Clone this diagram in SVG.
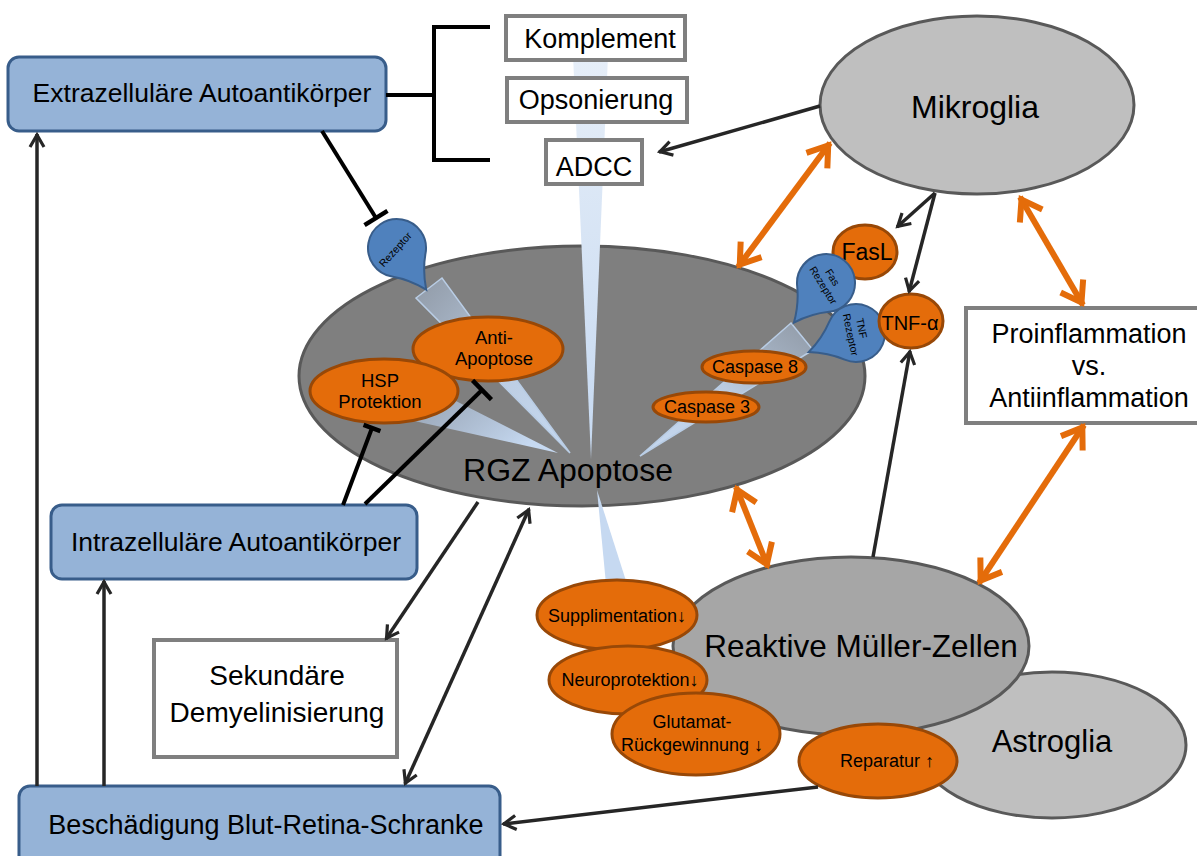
<svg xmlns="http://www.w3.org/2000/svg" width="1197" height="856" viewBox="0 0 1197 856">
<defs>
<style>
.t{font-family:"Liberation Sans",Arial,sans-serif;fill:#000}
.bb{fill:#95b3d7;stroke:#385d8a;stroke-width:3}
.bw{fill:#fff;stroke:#7f7f7f;stroke-width:4}
.cl{stroke:#595959;stroke-width:3}
.or{fill:#e46c0a;stroke:#984807;stroke-width:3}
.rc{fill:#4f81bd;stroke:#385d8a;stroke-width:2}
.lk{fill:none;stroke:#262626;stroke-width:3.5}
.lt{fill:none;stroke:#000;stroke-width:4}
.lo{fill:none;stroke:#e46c0a;stroke-width:6}
.wd{stroke:#b9cde5;stroke-width:1.5}
</style>
<linearGradient id="gV" x1="0" y1="0" x2="0" y2="1"><stop offset="0" stop-color="#e6eef8"/><stop offset="1" stop-color="#c6d9f1"/></linearGradient>
<linearGradient id="gR" x1="0" y1="0" x2="1" y2="1"><stop offset="0" stop-color="#a3b6cf" stop-opacity="0.5"/><stop offset="0.5" stop-color="#c6d9f1" stop-opacity="0.85"/><stop offset="1" stop-color="#c6d9f1"/></linearGradient>
<linearGradient id="gC" x1="1" y1="0" x2="0" y2="1"><stop offset="0" stop-color="#a3b6cf" stop-opacity="0.5"/><stop offset="0.5" stop-color="#c6d9f1" stop-opacity="0.85"/><stop offset="1" stop-color="#c6d9f1"/></linearGradient>
<linearGradient id="gH" x1="0" y1="0" x2="1" y2="0.4"><stop offset="0" stop-color="#a3b6cf" stop-opacity="0.6"/><stop offset="1" stop-color="#c6d9f1"/></linearGradient>
<path id="drop" d="M29,0 A29 29 0 1 1 0,-29 Q18,-29 36,-36 Q29,-18 29,0 Z"/>
<marker id="ah" viewBox="-15 -10 19 20" refX="1" refY="0" markerWidth="19" markerHeight="20" markerUnits="userSpaceOnUse" orient="auto-start-reverse"><path d="M-12,-7 L0,0 L-12,7" fill="none" stroke="#262626" stroke-width="3.2"/></marker>
<marker id="ao" viewBox="-24 -18 32 36" refX="3" refY="0" markerWidth="32" markerHeight="36" markerUnits="userSpaceOnUse" orient="auto-start-reverse"><path d="M-19,-13 L0,0 L-19,13" fill="none" stroke="#e46c0a" stroke-width="6"/></marker>
<marker id="tee" viewBox="-3 -15 6 30" refX="0" refY="0" markerWidth="6" markerHeight="30" markerUnits="userSpaceOnUse" orient="auto"><path d="M0,-13.5 V13.5" stroke="#000" stroke-width="4.5"/></marker>
<marker id="tees" viewBox="-3 -11 6 22" refX="0" refY="0" markerWidth="6" markerHeight="22" markerUnits="userSpaceOnUse" orient="auto"><path d="M0,-9 V9" stroke="#000" stroke-width="4.5"/></marker>
</defs>
<rect width="1197" height="856" fill="#fff"/>

<g id="mikroglia">
<ellipse class="cl" cx="977" cy="105" rx="157" ry="89" fill="#bfbfbf"/>
<text class="t" x="975" y="118" font-size="32" text-anchor="middle">Mikroglia</text>
</g>

<g id="astroglia">
<ellipse class="cl" cx="1052" cy="745" rx="134" ry="73" fill="#bfbfbf"/>
<text class="t" x="1052" y="752" font-size="31" text-anchor="middle">Astroglia</text>
</g>

<g id="mueller">
<ellipse class="cl" cx="851" cy="646" rx="178" ry="89" fill="#a6a6a6"/>
<text class="t" x="861" y="657" font-size="31.5" text-anchor="middle">Reaktive Müller-Zellen</text>
</g>

<g id="rgz">
<ellipse class="cl" cx="582" cy="376" rx="283" ry="130" fill="#7f7f7f"/>
<polygon points="573,55 608,55 591,459" fill="url(#gV)"/>
<polygon class="wd" points="416,298 442,278 570,453" fill="url(#gR)"/>
<polygon points="392,416 450,398 558,453" fill="url(#gH)"/>
<polygon class="wd" points="791,323 813,350 640,456" fill="url(#gC)"/>
<polygon points="597,490 606,584 627,584" fill="#c6d9f1"/>
<text class="t" x="568" y="481" font-size="32" text-anchor="middle">RGZ Apoptose</text>
</g>

<g id="komplement">
<rect class="bw" x="506" y="16" width="179" height="44"/>
<text class="t" x="600" y="48" font-size="27" text-anchor="middle">Komplement</text>
</g>
<g id="opsonierung">
<rect class="bw" x="507" y="78" width="180" height="44"/>
<text class="t" x="596" y="109" font-size="27" text-anchor="middle">Opsonierung</text>
</g>
<g id="adcc">
<rect class="bw" x="546" y="140" width="96" height="44"/>
<text class="t" x="594" y="176" font-size="27" text-anchor="middle">ADCC</text>
</g>

<g id="anti-apoptose">
<ellipse class="or" cx="488" cy="349" rx="75" ry="32"/>
<text class="t" x="494" y="344" font-size="18.5" text-anchor="middle">Anti-</text>
<text class="t" x="494" y="365" font-size="18.5" text-anchor="middle">Apoptose</text>
</g>
<g id="hsp">
<ellipse class="or" cx="384" cy="391" rx="74" ry="32"/>
<text class="t" x="380" y="387" font-size="18.5" text-anchor="middle">HSP</text>
<text class="t" x="380" y="408" font-size="18.5" text-anchor="middle">Protektion</text>
</g>
<g id="caspase8">
<ellipse class="or" cx="754" cy="367" rx="52" ry="16"/>
<text class="t" x="755" y="373" font-size="18" text-anchor="middle">Caspase 8</text>
</g>
<g id="caspase3">
<ellipse class="or" cx="706" cy="407" rx="53" ry="15"/>
<text class="t" x="707" y="413" font-size="18" text-anchor="middle">Caspase 3</text>
</g>

<g id="rezeptor">
<use href="#drop" class="rc" transform="translate(397,248) rotate(100)"/>
<text class="t" font-size="10.5" text-anchor="middle" transform="translate(398,252) rotate(-48)">Rezeptor</text>
</g>
<g id="fasl">
<ellipse class="or" cx="865" cy="252" rx="32" ry="27"/>
<text class="t" x="867" y="260" font-size="23" text-anchor="middle">FasL</text>
</g>
<g id="fas-rezeptor">
<use href="#drop" class="rc" transform="translate(826,283) rotate(174)"/>
<g transform="translate(827,283) rotate(58)">
<text class="t" x="-2" y="-4" font-size="10.5" text-anchor="middle">Fas</text>
<text class="t" x="0" y="8" font-size="10.5" text-anchor="middle">Rezeptor</text>
</g>
</g>
<g id="tnf-rezeptor">
<use href="#drop" class="rc" transform="translate(856,333) rotate(203)"/>
<g transform="translate(854,334) rotate(78)">
<text class="t" x="-4" y="-5" font-size="10.5" text-anchor="middle">TNF</text>
<text class="t" x="0" y="7" font-size="10.5" text-anchor="middle">Rezeptor</text>
</g>
</g>
<g id="tnf-alpha">
<ellipse class="or" cx="911" cy="321" rx="32" ry="27"/>
<text class="t" x="910" y="330" font-size="20" text-anchor="middle">TNF-α</text>
</g>

<g id="supplimentation">
<ellipse class="or" cx="617" cy="615" rx="80" ry="35"/>
<text class="t" x="617" y="622" font-size="18" text-anchor="middle">Supplimentation↓</text>
</g>
<g id="neuroprotektion">
<ellipse class="or" cx="628" cy="680" rx="79" ry="34"/>
<text class="t" x="630" y="686" font-size="18" text-anchor="middle">Neuroprotektion↓</text>
</g>
<g id="glutamat">
<ellipse class="or" cx="696" cy="734" rx="84" ry="41"/>
<text class="t" x="692" y="728" font-size="18" text-anchor="middle">Glutamat-</text>
<text class="t" x="692" y="751" font-size="18" text-anchor="middle">Rückgewinnung ↓</text>
</g>
<g id="reparatur">
<ellipse class="or" cx="878" cy="761" rx="79" ry="37"/>
<text class="t" x="887" y="767" font-size="18" text-anchor="middle">Reparatur ↑</text>
</g>

<g id="extrazellulaere">
<rect class="bb" x="8" y="57" width="378" height="74" rx="11"/>
<text class="t" x="202" y="102" font-size="26.5" text-anchor="middle">Extrazelluläre Autoantikörper</text>
</g>
<g id="intrazellulaere">
<rect class="bb" x="51" y="505" width="366" height="74" rx="11"/>
<text class="t" x="236" y="551" font-size="26.5" text-anchor="middle">Intrazelluläre Autoantikörper</text>
</g>
<g id="blut-retina-schranke">
<rect class="bb" x="19" y="786" width="481" height="90" rx="11"/>
<text class="t" x="266" y="834" font-size="27" text-anchor="middle">Beschädigung Blut-Retina-Schranke</text>
</g>
<g id="demyelinisierung">
<rect class="bw" x="154" y="640" width="243" height="117"/>
<text class="t" x="277" y="685" font-size="28" text-anchor="middle">Sekundäre</text>
<text class="t" x="277" y="722" font-size="28" text-anchor="middle">Demyelinisierung</text>
</g>
<g id="inflammation">
<rect class="bw" x="966" y="308" width="238" height="115"/>
<text class="t" x="1089" y="343" font-size="27" text-anchor="middle">Proinflammation</text>
<text class="t" x="1089" y="375" font-size="27" text-anchor="middle">vs.</text>
<text class="t" x="1089" y="407" font-size="27" text-anchor="middle">Antiinflammation</text>
</g>

<g id="connectors">
<path d="M386,95 H434 M490,27 H434 V160 H490" fill="none" stroke="#000" stroke-width="4"/>
<line class="lk" x1="820" y1="106" x2="659" y2="152" marker-end="url(#ah)"/>
<line class="lt" x1="322" y1="131" x2="376" y2="218" marker-end="url(#tee)"/>
<line class="lt" x1="343" y1="505" x2="372" y2="428" marker-end="url(#tees)"/>
<line class="lt" x1="365" y1="504" x2="482" y2="390" marker-end="url(#tee)"/>
<line class="lk" x1="935" y1="193" x2="897" y2="227" marker-end="url(#ah)"/>
<line class="lk" x1="935" y1="193" x2="909" y2="292" marker-end="url(#ah)"/>
<line class="lk" x1="873" y1="557" x2="910" y2="351" marker-end="url(#ah)"/>
<line class="lk" x1="478" y1="502" x2="386" y2="639" marker-end="url(#ah)"/>
<line class="lk" x1="405" y1="784" x2="529" y2="509" marker-start="url(#ah)" marker-end="url(#ah)"/>
<line class="lk" x1="104" y1="786" x2="104" y2="581" marker-end="url(#ah)"/>
<line class="lk" x1="37" y1="786" x2="37" y2="134" marker-end="url(#ah)"/>
<line class="lk" x1="818" y1="787" x2="503" y2="824" marker-end="url(#ah)"/>
<line class="lo" x1="830" y1="143" x2="738" y2="267" marker-start="url(#ao)" marker-end="url(#ao)"/>
<line class="lo" x1="1020" y1="197" x2="1083" y2="305" marker-start="url(#ao)" marker-end="url(#ao)"/>
<line class="lo" x1="736" y1="487" x2="768" y2="567" marker-start="url(#ao)" marker-end="url(#ao)"/>
<line class="lo" x1="1084" y1="425" x2="979" y2="583" marker-start="url(#ao)" marker-end="url(#ao)"/>
</g>
</svg>
